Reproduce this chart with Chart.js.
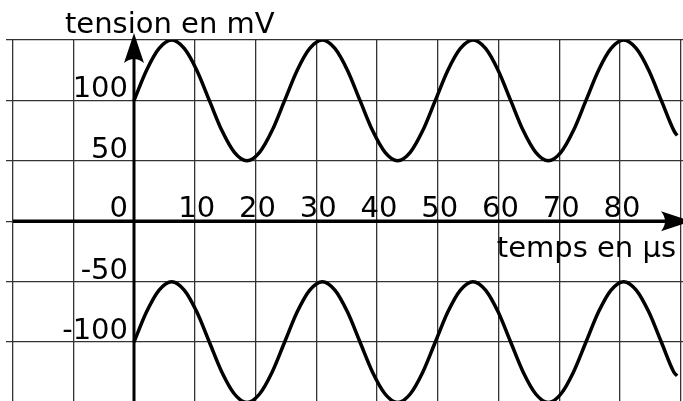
<!DOCTYPE html>
<html lang="fr">
<head>
    <meta charset="UTF-8">
    <title>Tension en fonction du temps</title>
    <script src="https://cdn.jsdelivr.net/npm/chart.js"></script>
    <style>
        html, body { margin: 0; padding: 0; background: #fff; }
        #wrap { width: 683px; height: 401px; position: relative; }
    </style>
</head>
<body>
    <div id="wrap"><canvas id="signal"></canvas></div>
    <script>
        // temps en µs (échantillons)
        const times = [0, 2.07, 4.13, 6.2, 8.27, 10.33, 12.4, 14.47, 16.53, 18.6, 20.67, 22.73,
            24.8, 26.87, 28.93, 31, 33.07, 35.13, 37.2, 39.27, 41.33, 43.4, 45.47, 47.53,
            49.6, 51.67, 53.73, 55.8, 57.87, 59.93, 62, 64.07, 66.13, 68.2, 70.27, 72.33,
            74.4, 76.47, 78.53, 80.6, 82.67, 84.73, 86.8, 88.87, 89.4];
        // tension en mV, courbe du haut
        const upper = [100, 125, 143, 150, 143, 125, 100, 75, 57, 50, 57, 75,
            100, 125, 143, 150, 143, 125, 100, 75, 57, 50, 57, 75,
            100, 125, 143, 150, 143, 125, 100, 75, 57, 50, 57, 75,
            100, 125, 143, 150, 143, 125, 100, 75, 71];
        // tension en mV, courbe du bas
        const lower = [-100, -75, -57, -50, -57, -75, -100, -125, -143, -150, -143, -125,
            -100, -75, -57, -50, -57, -75, -100, -125, -143, -150, -143, -125,
            -100, -75, -57, -50, -57, -75, -100, -125, -143, -150, -143, -125,
            -100, -75, -57, -50, -57, -75, -100, -125, -128];

        const xTicks = [10, 20, 30, 40, 50, 60, 70, 80];
        const yTicks = [100, 50, -50, -100];
        const xGrid = [-20, -10, 0, 10, 20, 30, 40, 50, 60, 70, 80, 90];
        const yGrid = [150, 100, 50, 0, -50, -100];

        const FONT = '29px "DejaVu Sans"';

        function toPoints(ys) {
            return times.map((t, i) => ({ x: t, y: ys[i] }));
        }

        // flèche style "lance"
        function arrowHead(ctx, tipX, tipY, dir) {
            ctx.save();
            ctx.translate(tipX, tipY);
            ctx.rotate(dir);
            ctx.beginPath();
            ctx.moveTo(0, 0);
            ctx.lineTo(-30, 10);
            ctx.quadraticCurveTo(-22, 0, -30, -10);
            ctx.closePath();
            ctx.fill();
            ctx.restore();
        }

        const axesPlugin = {
            id: 'axesPlugin',
            afterDatasetsDraw(chart) {
                const { ctx, chartArea, scales } = chart;
                const x0 = scales.x.getPixelForValue(0);
                const y0 = scales.y.getPixelForValue(0);
                ctx.save();
                ctx.strokeStyle = '#000';
                ctx.fillStyle = '#000';
                ctx.lineWidth = 3.5;
                // axe des temps
                ctx.beginPath();
                ctx.moveTo(13, y0);
                ctx.lineTo(chartArea.right - 10, y0);
                ctx.stroke();
                arrowHead(ctx, chartArea.right + 8, y0, 0);
                // axe des tensions
                ctx.lineWidth = 3;
                ctx.beginPath();
                ctx.moveTo(x0, chartArea.bottom);
                ctx.lineTo(x0, chartArea.top + 15);
                ctx.stroke();
                arrowHead(ctx, x0, chartArea.top - 7, -Math.PI / 2);

                // graduations
                ctx.font = FONT;
                ctx.textBaseline = 'alphabetic';
                ctx.textAlign = 'right';
                yTicks.forEach(v => {
                    ctx.fillText(String(v), x0 - 6, scales.y.getPixelForValue(v) - 3);
                });
                ctx.fillText('0', x0 - 6, y0 - 4);
                ctx.textAlign = 'center';
                xTicks.forEach(v => {
                    ctx.fillText(String(v), scales.x.getPixelForValue(v) + 2, y0 - 4);
                });

                // titres des axes
                ctx.textAlign = 'left';
                ctx.fillText('tension en mV', x0 - 69, chartArea.top - 7);
                ctx.textAlign = 'right';
                ctx.fillText('temps en µs', chartArea.right - 7, y0 + 36);
                ctx.restore();
            }
        };

        const lineStyle = {
            showLine: true,
            borderColor: '#000',
            borderWidth: 3.5,
            pointRadius: 0,
            fill: false,
            cubicInterpolationMode: 'monotone'
        };

        new Chart(document.getElementById('signal'), {
            type: 'scatter',
            data: {
                datasets: [
                    Object.assign({ label: 'haut', data: toPoints(upper) }, lineStyle),
                    Object.assign({ label: 'bas', data: toPoints(lower) }, lineStyle)
                ]
            },
            options: {
                responsive: true,
                maintainAspectRatio: false,
                animation: false,
                layout: { padding: { left: 6, top: 40, right: 0, bottom: 0 } },
                plugins: { legend: { display: false }, tooltip: { enabled: false } },
                scales: {
                    x: {
                        type: 'linear',
                        min: -21.07,
                        max: 90.37,
                        afterBuildTicks: s => { s.ticks = xGrid.map(v => ({ value: v })); },
                        ticks: { display: false },
                        border: { display: false },
                        grid: { color: '#333', lineWidth: 1.3, drawTicks: false }
                    },
                    y: {
                        type: 'linear',
                        min: -148.8,
                        max: 150,
                        afterBuildTicks: s => { s.ticks = yGrid.map(v => ({ value: v })); },
                        ticks: { display: false },
                        border: { display: false },
                        grid: { color: '#333', lineWidth: 1.3, drawTicks: false }
                    }
                }
            },
            plugins: [axesPlugin]
        });
    </script>
</body>
</html>
